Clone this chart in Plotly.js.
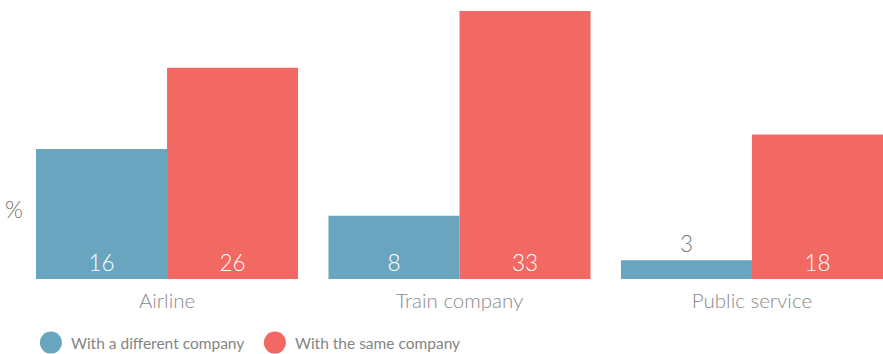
<!DOCTYPE html>
<html>
<head>
<meta charset="utf-8">
<script src="https://cdn.plot.ly/plotly-3.0.1.min.js"></script>
<style>
html,body{margin:0;padding:0;background:#fff;}
#chart{width:883px;height:354px;}
</style>
</head>
<body>
<div id="chart"></div>
<script>
const categories = ["Airline", "Train company", "Public service"];
const seriesNames = ["With a different company", "With the same company"];
const differentValues = [16, 7.8, 2.3];
const sameValues = [26, 33, 17.8];
const differentLabels = ["16", "8", "3"];
const sameLabels = ["26", "33", "18"];

const blue = "#6aa5bf";
const red = "#f26964";
const fontFam = "Lato, 'Open Sans', sans-serif";

function labelPos(vals){ return vals.map(v => v < 5 ? "outside" : "inside"); }
function labelColor(vals){ return vals.map(v => v < 5 ? "#7d7d7d" : "#ffffff"); }

const traces = [
  {
    type: "bar", x: categories, y: differentValues, name: seriesNames[0],
    marker: {color: blue}, text: differentLabels,
    textposition: labelPos(differentValues), insidetextanchor: "start",
    textfont: {family: fontFam, size: 22.5, color: labelColor(differentValues), weight: 300},
    cliponaxis: false, showlegend: false, hoverinfo: "skip"
  },
  {
    type: "bar", x: categories, y: sameValues, name: seriesNames[1],
    marker: {color: red}, text: sameLabels,
    textposition: labelPos(sameValues), insidetextanchor: "start",
    textfont: {family: fontFam, size: 22.5, color: labelColor(sameValues), weight: 300},
    cliponaxis: false, showlegend: false, hoverinfo: "skip"
  },
  {
    type: "scatter", mode: "markers", x: [null], y: [null], name: seriesNames[0],
    marker: {color: blue, size: 16, symbol: "circle"}, showlegend: true
  },
  {
    type: "scatter", mode: "markers", x: [null], y: [null], name: seriesNames[1],
    marker: {color: red, size: 16, symbol: "circle"}, showlegend: true
  }
];

const layout = {
  width: 883, height: 354,
  margin: {l: 36, r: 0, t: 11, b: 75, pad: 0},
  paper_bgcolor: "#ffffff", plot_bgcolor: "#ffffff",
  barmode: "group", bargap: 0.104, bargroupgap: 0,
  font: {family: fontFam, color: "#7d7d7d"},
  xaxis: {
    type: "category", range: [-0.448, 2.448], showgrid: false, zeroline: false,
    showline: false, ticks: "", ticklabelstandoff: 7,
    tickfont: {family: fontFam, size: 20.5, color: "#8a8a8a", weight: 300},
    fixedrange: true
  },
  yaxis: {
    range: [0, 33], showgrid: false, zeroline: false, showline: false,
    showticklabels: false, ticks: "", fixedrange: true
  },
  showlegend: true,
  legend: {
    orientation: "h", xref: "container", yref: "container", x: 0.035, y: 0.031,
    xanchor: "left", yanchor: "middle", entrywidth: 179, entrywidthmode: "pixels",
    itemsizing: "trace",
    font: {family: fontFam, size: 15.5, color: "#858585"}
  },
  annotations: [
    {text: "%", xref: "paper", yref: "paper", x: 0, y: 0.26, xanchor: "right", yanchor: "middle",
     xshift: -11, showarrow: false, font: {family: fontFam, size: 23, color: "#6f6f6f", weight: 300}}
  ]
};

Plotly.newPlot("chart", traces, layout, {displayModeBar: false, staticPlot: true}).then(function(){
  // enlarge the legend circles to match the reference (r = 11px)
  document.querySelectorAll("#chart .legend .legendpoints path.scatterpts").forEach(function(p){
    p.setAttribute("d", "M11,0A11,11 0 1,1 0,-11A11,11 0 0,1 11,0Z");
  });
});
</script>
</body>
</html>
